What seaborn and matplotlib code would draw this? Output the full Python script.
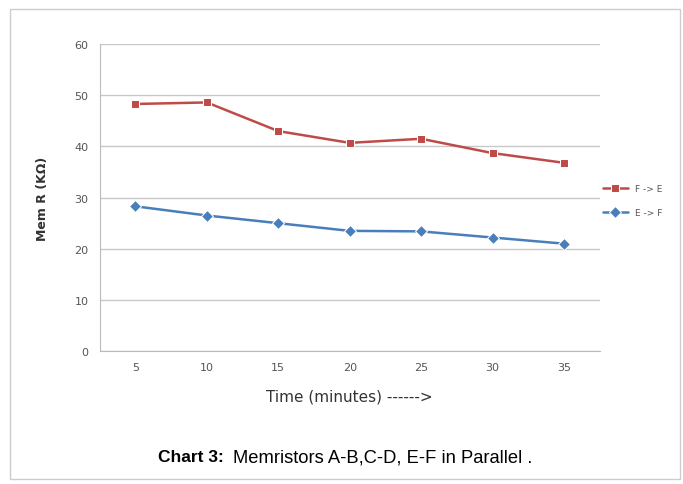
import pandas as pd
import matplotlib.pyplot as plt
import seaborn as sns
from matplotlib.patches import Rectangle

time_labels = ["5", "10", "15", "20", "25", "30", "35"]
f_to_e = [48.3, 48.6, 43.0, 40.7, 41.5, 38.7, 36.8]
e_to_f = [28.3, 26.5, 25.0, 23.5, 23.4, 22.2, 21.0]
series_names = ["F -> E", "E -> F"]

df = pd.DataFrame({
    "pos": list(range(len(time_labels))) * 2,
    "R": f_to_e + e_to_f,
    "series": [series_names[0]] * len(f_to_e) + [series_names[1]] * len(e_to_f),
})

sns.set_style("white")

fig = plt.figure(figsize=(6.83, 4.85), dpi=100)
ax = fig.add_axes([0.146, 0.274, 0.732, 0.633])

sns.lineplot(
    data=df,
    x="pos",
    y="R",
    hue="series",
    style="series",
    markers={series_names[0]: "s", series_names[1]: "D"},
    dashes=False,
    palette={series_names[0]: "#be4b48", series_names[1]: "#4a7ebb"},
    markersize=6,
    linewidth=1.8,
    ax=ax,
)

ax.set_xlim(-0.5, 6.5)
ax.set_ylim(0, 60)
ax.set_yticks(range(0, 61, 10))
ax.set_xticks(range(len(time_labels)))
ax.set_xticklabels(time_labels)
ax.tick_params(axis="both", labelsize=8, colors="#555555", length=0, pad=8)
ax.yaxis.grid(True, color="#c8c8c8", linewidth=1)
ax.xaxis.grid(False)
for side in ["top", "right"]:
    ax.spines[side].set_visible(False)
for side in ["left", "bottom"]:
    ax.spines[side].set_color("#bbbbbb")

ax.set_ylabel("Mem R (KΩ)", fontsize=9, fontweight="bold", color="#333333", labelpad=18)
ax.set_xlabel("Time (minutes) ------>", fontsize=11, color="#333333",
              family="Liberation Sans Narrow", labelpad=12)

handles, labels = ax.get_legend_handles_labels()
ax.legend(handles, labels, loc="center left", bbox_to_anchor=(0.99, 0.49),
          frameon=False, fontsize=6.5, labelcolor="#555555", handlelength=2.8,
          labelspacing=1.6)

fig.text(0.231, 0.056, "Chart 3:", fontsize=12.5, fontweight="bold",
         family="Liberation Sans", color="black", ha="left", va="center")
fig.text(0.341, 0.056, "Memristors A-B,C-D, E-F in Parallel .", fontsize=13.2,
         family="Liberation Sans", color="black", ha="left", va="center")

fig.patches.append(Rectangle((0.015, 0.01), 0.98, 0.97, transform=fig.transFigure,
                             fill=False, edgecolor="#cccccc", linewidth=1))

fig.savefig("out.png", dpi=100)
